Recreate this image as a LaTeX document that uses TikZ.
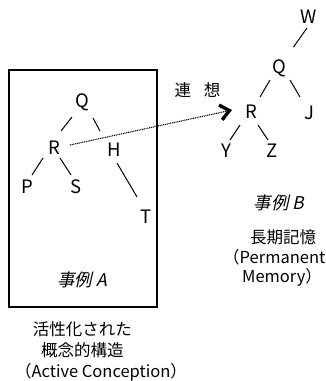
\documentclass[tikz,border=0pt]{standalone}
\usepackage{fontspec}
\setmainfont{Noto Sans CJK JP}
\newfontfamily\slantjp[FakeSlant=0.22]{Noto Sans CJK JP}
\usetikzlibrary{arrows.meta}
\begin{document}
\begin{tikzpicture}[x=1pt,y=-1pt,
  lbl/.style={inner sep=0pt,font=\fontsize{18.5}{20}\selectfont},
  capt/.style={inner sep=0pt,font=\fontsize{16.5}{21}\selectfont},
  ttl/.style={inner sep=0pt,font=\fontsize{17.5}{20}\selectfont\slantjp},
  tedge/.style={line width=1pt},
  assoc/.style={line width=1.1pt,dash pattern=on 1pt off 0.8pt,
     -{Straight Barb[length=9pt,width=15pt,line width=3.4pt]}}]
\useasboundingbox (0,0) rectangle (326,381);
% box A
\node[draw,line width=1.4pt,minimum width=148pt,minimum height=237pt,inner sep=0pt] (boxA) at (83,188.5) {};
% tree A
\node[lbl] (QA) at (82,102) {Q};
\node[lbl] (RA) at (54,148) {R};
\node[lbl] (HA) at (114,150) {H};
\node[lbl] (PA) at (27,187) {P};
\node[lbl] (SA) at (76,187) {S};
\node[lbl] (TA) at (146,217) {T};
\draw[tedge] ([shift={(-10,15)}]QA.center) -- ([shift={(7,-17)}]RA.center);
\draw[tedge] ([shift={(11,16)}]QA.center) -- ([shift={(-14,-19)}]HA.center);
\draw[tedge] ([shift={(-11,10)}]RA.center) -- ([shift={(5,-12)}]PA.center);
\draw[tedge] ([shift={(6,10)}]RA.center) -- ([shift={(-5,-12)}]SA.center);
\draw[tedge] ([shift={(3,13)}]HA.center) -- ([shift={(-9,-20)}]TA.center);
\node[ttl] (titleA) at (82,280) {事例 \textit{A}};
% tree B
\node[lbl] (W) at (309,17) {W};
\node[lbl] (QB) at (279.5,68) {Q};
\node[lbl] (RB) at (251,112) {R};
\node[lbl] (J) at (309,113) {J};
\node[lbl] (Y) at (226,151) {Y};
\node[lbl] (Z) at (272,151) {Z};
\draw[tedge] ([shift={(-2,11)}]W.center) -- ([shift={(14,-21)}]QB.center);
\draw[tedge] ([shift={(-9.5,12)}]QB.center) -- ([shift={(9,-15)}]RB.center);
\draw[tedge] ([shift={(10.5,12)}]QB.center) -- ([shift={(-9,-16)}]J.center);
\draw[tedge] ([shift={(-11,13)}]RB.center) -- ([shift={(4,-11)}]Y.center);
\draw[tedge] ([shift={(7,13)}]RB.center) -- ([shift={(-4,-11)}]Z.center);
\node[ttl] (titleB) at (279,203) {事例 \textit{B}};
% association
\node[lbl,font=\fontsize{16.5}{20}\selectfont] (rensou) at (197.5,90) {連\hspace{13pt}想};
\draw[assoc] ([shift={(16,-3)}]RA.center) -- ([shift={(-19,-2)}]RB.center);
% captions
\node[capt] (capB1) at (283,237) {長期記憶};
\node[capt,anchor=east] (capB2) at (325.5,257) {（Permanent};
\node[capt] (capB3) at (282,277) {Memory）};
\node[capt] (capA1) at (82.5,329) {活性化された};
\node[capt] (capA2) at (82.5,350) {概念的構造};
\node[capt] (capA3) at (101,372) {（Active Conception）};
\end{tikzpicture}
\end{document}
